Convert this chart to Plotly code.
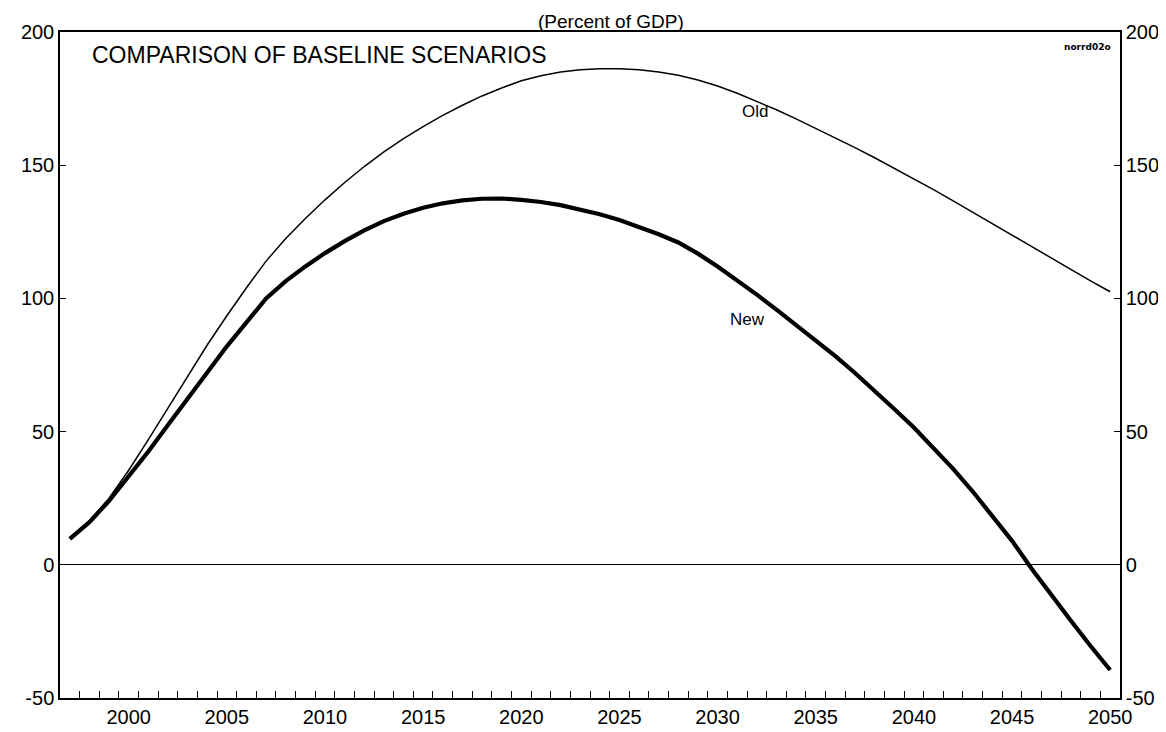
import plotly.graph_objects as go

years = list(range(1997, 2051))

new_values = [9.7, 16, 24, 33, 42.5, 52.5, 62.5, 72.5, 82, 91,
              100, 106.5, 112, 117, 121.5, 125.5, 129, 131.8, 134, 135.7,
              136.8, 137.4, 137.5, 137, 136.2, 135, 133.5, 131.6, 129.4, 126.9,
              124.1, 121, 116.8, 112, 106.8, 101.4, 95.8, 90, 84.3, 78.3,
              72, 65.5, 58.5, 51.5, 44, 36, 27.5, 18.5, 9, -1.5,
              -11.5, -21, -30.5, -39.5]

old_values = [10, 16.5, 25, 35.5, 47, 59, 71, 82.5, 93.5, 104,
              114, 122.5, 130, 137, 143.5, 149.5, 155, 160, 164.5, 168.7,
              172.5, 176, 179, 181.7, 183.6, 185, 185.8, 186.2, 186.2, 185.8,
              185, 183.8, 182, 179.7, 177, 174, 170.8, 167.4, 163.9, 160.3,
              156.6, 152.8, 148.9, 144.9, 140.8, 136.6, 132.3, 128, 123.6, 119.3,
              115, 110.8, 106.6, 102.5]

label_years = [2000, 2005, 2010, 2015, 2020, 2025, 2030, 2035, 2040, 2045, 2050]
label_text = [str(y) for y in label_years]
y_ticks = [-50, 0, 50, 100, 150, 200]
y_text = ["-50", "0", "50", "100", "150", "200"]

title_text = "COMPARISON OF BASELINE SCENARIOS"
subtitle_text = "(Percent of GDP)"
code_text = "<b>norrd02o</b>"

year_bounds = [y + 0.5 for y in years[:-1]]

FONT = "Liberation Sans"

fig = go.Figure()
fig.add_trace(go.Scatter(x=years, y=old_values, mode="lines", name="Old",
                         line=dict(color="black", width=1.5), showlegend=False))
fig.add_trace(go.Scatter(x=years, y=new_values, mode="lines", name="New",
                         line=dict(color="black", width=4.2), showlegend=False))
fig.add_trace(go.Scatter(x=years, y=old_values, mode="lines", yaxis="y2",
                         line=dict(color="rgba(0,0,0,0)", width=0), showlegend=False,
                         hoverinfo="skip"))

fig.update_layout(
    width=1166, height=732,
    margin=dict(l=52, r=54, t=24, b=34),
    paper_bgcolor="white", plot_bgcolor="white",
    font=dict(family=FONT, color="black", size=20),
    xaxis=dict(range=[1996.5, 2050.5], showline=True, linecolor="black", linewidth=1.5,
               mirror=True, tickvals=label_years, ticktext=label_text, ticks="",
               showgrid=False, zeroline=False, tickfont=dict(size=20, family=FONT),
               minor=dict(tickvals=year_bounds, ticks="inside", ticklen=7,
                          tickcolor="black", tickwidth=1, showgrid=False)),
    yaxis=dict(range=[-50, 200], tickvals=y_ticks, ticktext=y_text, ticks="inside",
               ticklen=6, tickcolor="black", showline=True, linecolor="black",
               linewidth=1.5, showgrid=False, zeroline=True, zerolinecolor="black",
               zerolinewidth=1, tickfont=dict(size=20, family=FONT)),
    yaxis2=dict(range=[-50, 200], overlaying="y", side="right", tickvals=y_ticks,
                ticktext=y_text, ticks="inside", ticklen=6, tickcolor="black",
                showline=True, linecolor="black", linewidth=1.5, showgrid=False,
                zeroline=False, tickfont=dict(size=20, family=FONT)),
    annotations=[
        dict(text=title_text, xref="paper", yref="paper", x=0.0283, y=0.966,
             xanchor="left", yanchor="middle", showarrow=False,
             font=dict(size=23, family=FONT)),
        dict(text=subtitle_text, xref="paper", yref="paper", x=0.52, y=1.0345,
             xanchor="center", yanchor="top", showarrow=False,
             font=dict(size=19, family=FONT)),
        dict(text=code_text, xref="paper", yref="paper", x=0.993, y=0.988,
             xanchor="right", yanchor="top", showarrow=False,
             font=dict(size=9, family="DejaVu Sans")),
        dict(text="Old", x=2031.9, y=170, xref="x", yref="y", showarrow=False,
             font=dict(size=17, family=FONT)),
        dict(text="New", x=2031.5, y=92, xref="x", yref="y", showarrow=False,
             font=dict(size=17, family=FONT)),
    ],
)

fig.write_html("out.html")
